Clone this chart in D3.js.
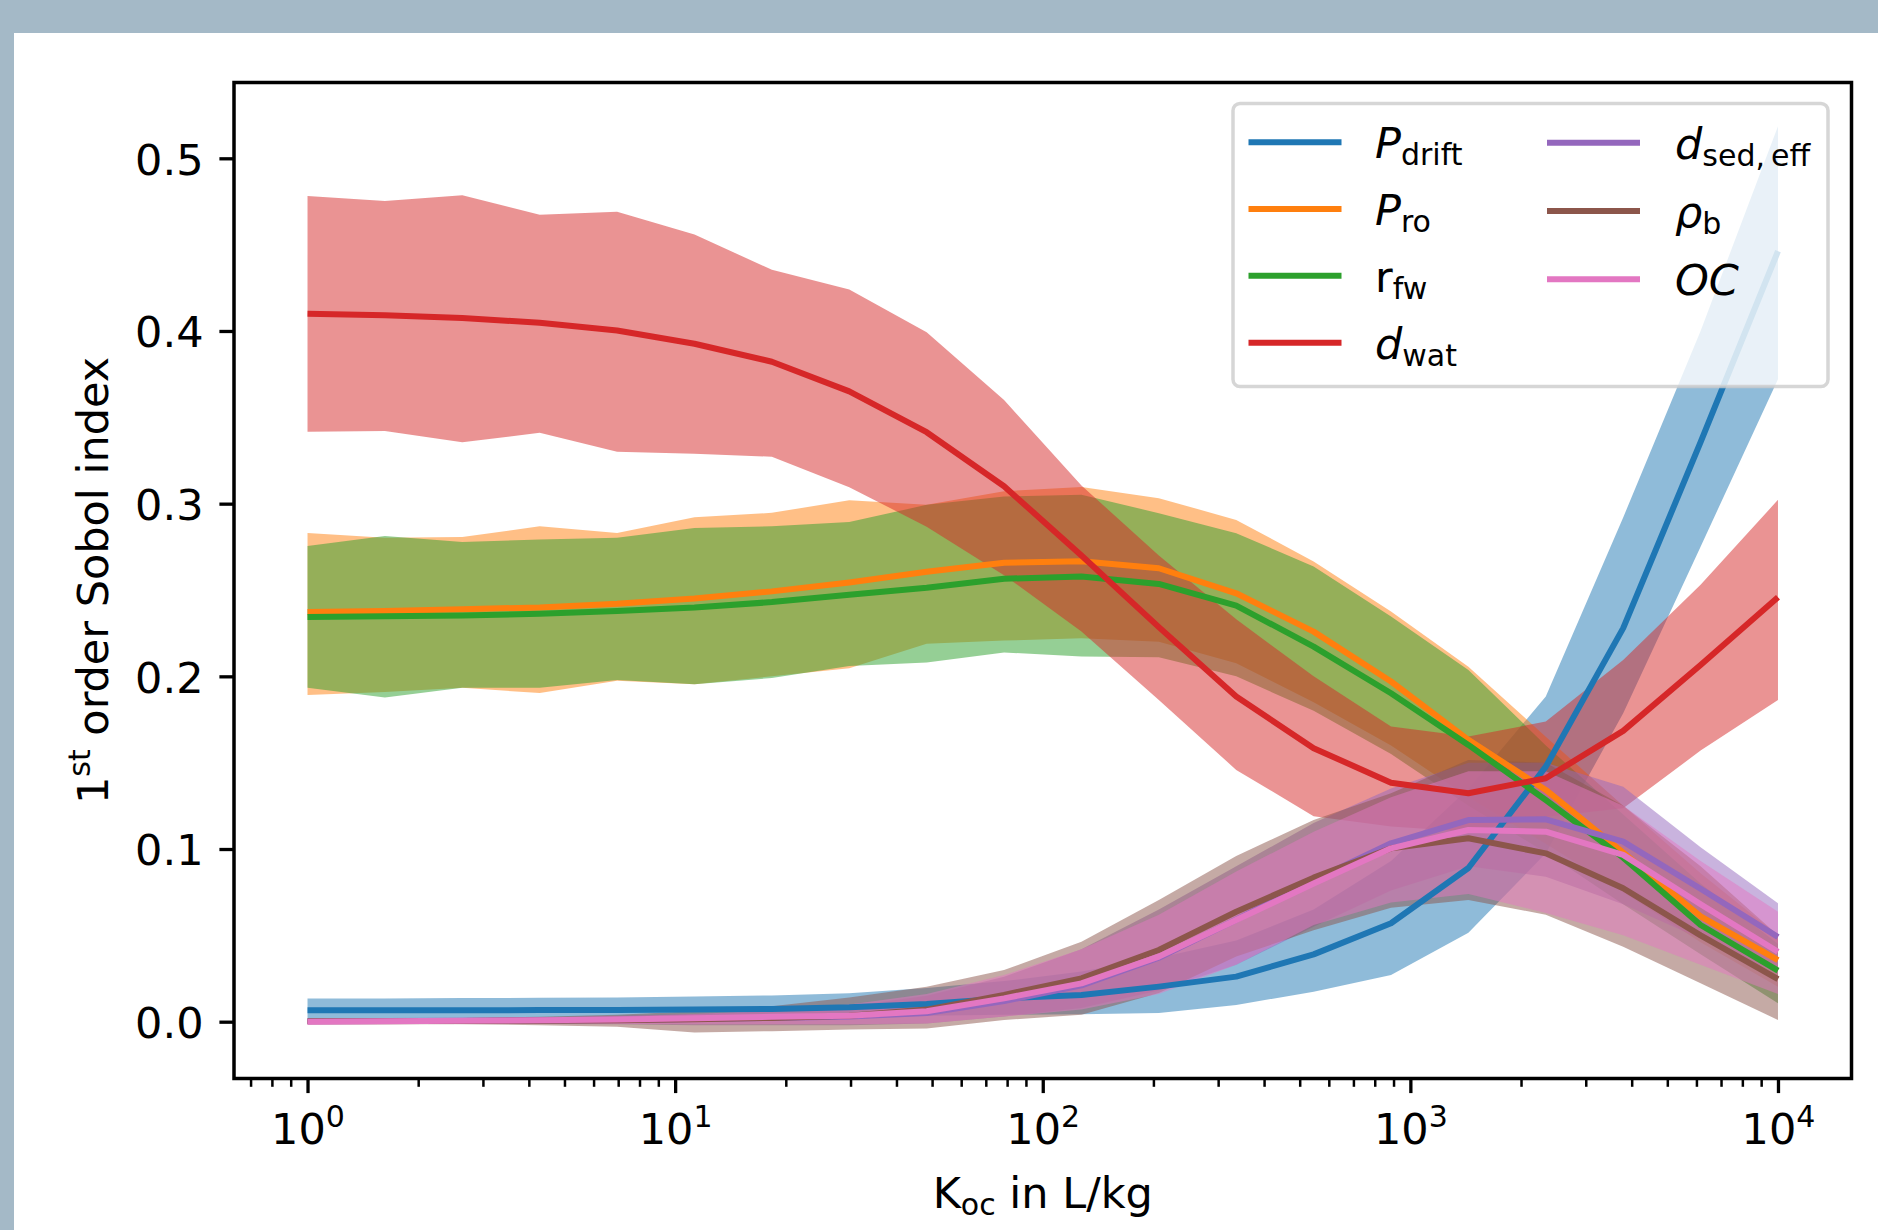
<!DOCTYPE html>
<html><head><meta charset="utf-8">
<script src="https://cdn.jsdelivr.net/npm/d3@7"></script>
<style>body{margin:0;background:#fff;} svg{display:block;} text{font-family:"DejaVu Sans",sans-serif;fill:#000;}</style>
</head><body><svg id="c" width="1878" height="1230"></svg>
<script>
// ---- data ----
const koc = [1, 1.6238, 2.6367, 4.2813, 6.9519, 11.288, 18.330, 29.764, 48.329, 78.476, 127.43, 206.91, 335.98, 545.56, 885.87, 1438.4, 2335.7, 3792.7, 6158.5, 10000];

const pdriftMean = [0.0066,0.0066,0.0066,0.0067,0.0068,0.0070,0.0074,0.0083,0.0103,0.0135,0.0155,0.0203,0.0261,0.0390,0.0570,0.0890,0.1477,0.2279,0.3356,0.4462];
const pdriftLo   = [0.0014,0.0015,0.0016,0.0017,0.0019,0.0021,0.0024,0.0028,0.0034,0.0040,0.0043,0.0050,0.0097,0.0174,0.0270,0.0515,0.0975,0.1786,0.2751,0.3720];
const pdriftHi   = [0.0135,0.0135,0.0137,0.0138,0.0140,0.0146,0.0152,0.0165,0.0195,0.0235,0.0290,0.0370,0.0470,0.0650,0.0930,0.1350,0.1883,0.2920,0.4000,0.5186];

const proMean = [0.2373,0.2379,0.2389,0.2399,0.2420,0.2451,0.2492,0.2544,0.2606,0.2658,0.2667,0.2626,0.2481,0.2259,0.1970,0.1632,0.1342,0.0980,0.0610,0.0357];
const proLo   = [0.1892,0.1909,0.1934,0.1903,0.1975,0.1954,0.2000,0.2047,0.2188,0.2207,0.2221,0.2201,0.2076,0.1850,0.1600,0.1300,0.1030,0.0750,0.0460,0.0203];
const proHi   = [0.2830,0.2802,0.2807,0.2869,0.2830,0.2921,0.2947,0.3020,0.2993,0.3072,0.3097,0.3032,0.2906,0.2665,0.2375,0.2056,0.1650,0.1250,0.0860,0.0500];

const rfwMean = [0.2344,0.2348,0.2352,0.2362,0.2378,0.2399,0.2430,0.2472,0.2513,0.2565,0.2578,0.2535,0.2410,0.2172,0.1902,0.1603,0.1284,0.0950,0.0560,0.0296];
const rfwLo   = [0.1934,0.1878,0.1934,0.1934,0.1979,0.1954,0.1990,0.2060,0.2080,0.2138,0.2115,0.2111,0.2000,0.1800,0.1550,0.1250,0.0980,0.0680,0.0390,0.0107];
const rfwHi   = [0.2755,0.2813,0.2778,0.2793,0.2802,0.2859,0.2869,0.2894,0.2993,0.3041,0.3051,0.2945,0.2829,0.2636,0.2346,0.2037,0.1600,0.1200,0.0800,0.0450];

const dwatMean = [0.4100,0.4091,0.4075,0.4048,0.4003,0.3926,0.3822,0.3650,0.3414,0.3101,0.2700,0.2285,0.1883,0.1584,0.1384,0.1323,0.1410,0.1684,0.2066,0.2458];
const dwatLo   = [0.3417,0.3421,0.3355,0.3411,0.3301,0.3289,0.3272,0.3095,0.2867,0.2586,0.2260,0.1863,0.1458,0.1190,0.1130,0.1100,0.1187,0.1236,0.1570,0.1863];
const dwatHi   = [0.4782,0.4753,0.4786,0.4673,0.4690,0.4559,0.4354,0.4240,0.3992,0.3600,0.3105,0.2700,0.2330,0.2000,0.1709,0.1651,0.1738,0.2095,0.2530,0.3022];

const dsedMean = [0.0003,0.0004,0.0005,0.0007,0.0010,0.0015,0.0022,0.0030,0.0050,0.0120,0.0210,0.0370,0.0590,0.0820,0.1033,0.1168,0.1172,0.1043,0.0770,0.0490];
const dsedLo   = [-0.0010,-0.0010,-0.0011,-0.0013,-0.0015,-0.0020,-0.0020,-0.0020,-0.0010,0.0030,0.0080,0.0180,0.0330,0.0550,0.0760,0.0900,0.0840,0.0680,0.0480,0.0280];
const dsedHi   = [0.0015,0.0018,0.0020,0.0025,0.0035,0.0045,0.0060,0.0090,0.0150,0.0260,0.0420,0.0650,0.0900,0.1150,0.1350,0.1500,0.1500,0.1360,0.1010,0.0686];

const rhobMean = [0.0002,0.0003,0.0004,0.0006,0.0009,0.0014,0.0022,0.0035,0.0070,0.0155,0.0251,0.0415,0.0637,0.0834,0.1004,0.1062,0.0975,0.0773,0.0500,0.0246];
const rhobLo   = [-0.0010,-0.0012,-0.0015,-0.0020,-0.0030,-0.0063,-0.0055,-0.0045,-0.0040,0.0010,0.0040,0.0166,0.0377,0.0530,0.0660,0.0705,0.0620,0.0434,0.0222,0.0010];
const rhobHi   = [0.0015,0.0018,0.0022,0.0028,0.0040,0.0060,0.0090,0.0140,0.0203,0.0299,0.0463,0.0705,0.0960,0.1168,0.1323,0.1516,0.1500,0.1250,0.0900,0.0500];

const ocMean = [0.0000,0.0003,0.0005,0.0008,0.0012,0.0020,0.0028,0.0035,0.0060,0.0135,0.0222,0.0377,0.0589,0.0800,0.1004,0.1110,0.1100,0.0966,0.0680,0.0405];
const ocLo   = [-0.0010,-0.0009,-0.0009,-0.0010,-0.0012,-0.0015,-0.0015,-0.0015,-0.0010,0.0030,0.0070,0.0160,0.0330,0.0560,0.0690,0.0740,0.0630,0.0500,0.0330,0.0160];
const ocHi   = [0.0010,0.0014,0.0018,0.0024,0.0032,0.0045,0.0065,0.0100,0.0160,0.0270,0.0420,0.0620,0.0870,0.1100,0.1300,0.1450,0.1450,0.1250,0.0930,0.0637];

const seriesNames = ["P_drift","P_ro","r_fw","d_wat","d_sed,eff","rho_b","OC"];
const seriesColors = ["#1f77b4","#ff7f0e","#2ca02c","#d62728","#9467bd","#8c564b","#e377c2"];
const yTicks = [0.0, 0.1, 0.2, 0.3, 0.4, 0.5];
const xMajorTicks = [1, 10, 100, 1000, 10000];
const xTickExps = ["0","1","2","3","4"];
const xLabel = ["K", "oc", " in L/kg"];
const yLabel = ["1", "st", " order Sobol index"];

const series = [
  {mean: pdriftMean, lo: pdriftLo, hi: pdriftHi},
  {mean: proMean, lo: proLo, hi: proHi},
  {mean: rfwMean, lo: rfwLo, hi: rfwHi},
  {mean: dwatMean, lo: dwatLo, hi: dwatHi},
  {mean: dsedMean, lo: dsedLo, hi: dsedHi},
  {mean: rhobMean, lo: rhobLo, hi: rhobHi},
  {mean: ocMean, lo: ocLo, hi: ocHi}
].map((s, k) => ({...s, color: seriesColors[k], name: seriesNames[k]}));

// ---- layout ----
const L = 234, R = 1851.5, T = 82.5, B = 1078.5;
const FS = 43, SFS = 30;
const svg = d3.select("#c");

svg.append("rect").attr("width", 1878).attr("height", 1230).attr("fill", "#a4b9c7");
svg.append("rect").attr("x", 14).attr("y", 33).attr("width", 1864).attr("height", 1197).attr("fill", "#ffffff");

const x = d3.scaleLog().domain([Math.pow(10, -0.2), Math.pow(10, 4.2)]).range([L, R]);
const y = d3.scaleLinear().domain([-0.0329, 0.5439]).range([B, T]);

svg.append("clipPath").attr("id", "clip").append("rect")
  .attr("x", L).attr("y", T).attr("width", R - L).attr("height", B - T);

const plot = svg.append("g").attr("clip-path", "url(#clip)");

// bands
series.forEach(s => {
  const area = d3.area()
    .x((d, i) => x(koc[i]))
    .y0((d, i) => y(s.lo[i]))
    .y1((d, i) => y(s.hi[i]));
  plot.append("path").datum(s.mean).attr("d", area)
    .attr("fill", s.color).attr("fill-opacity", 0.5).attr("stroke", "none");
});
// lines
series.forEach(s => {
  const line = d3.line().x((d, i) => x(koc[i])).y(d => y(d));
  plot.append("path").datum(s.mean).attr("d", line)
    .attr("fill", "none").attr("stroke", s.color).attr("stroke-width", 6)
    .attr("stroke-linejoin", "round").attr("stroke-linecap", "butt");
});

// minor ticks
const minorTicks = [];
for (let e = -1; e <= 4; e++) for (let m = 2; m <= 9; m++) {
  const v = m * Math.pow(10, e);
  if (v > x.domain()[0] && v < x.domain()[1]) minorTicks.push(v);
}

const xAxisMinor = d3.axisBottom(x).tickValues(minorTicks).tickSize(8.3).tickFormat("");
const gxm = svg.append("g").attr("transform", `translate(0,${B})`).call(xAxisMinor);
gxm.select(".domain").remove();
gxm.selectAll("line").attr("stroke", "#000").attr("stroke-width", 2.5);

const xAxis = d3.axisBottom(x).tickValues(xMajorTicks).tickSize(14.6).tickFormat("");
const gx = svg.append("g").attr("transform", `translate(0,${B})`).call(xAxis);
gx.select(".domain").remove();
gx.selectAll("line").attr("stroke", "#000").attr("stroke-width", 3.3);
gx.selectAll(".tick").each(function(d, i) {
  const t = d3.select(this).append("text")
    .attr("x", 0).attr("y", 1144 - B).attr("text-anchor", "middle")
    .attr("font-size", FS).attr("fill", "#000");
  t.append("tspan").text("10");
  t.append("tspan").attr("font-size", SFS).attr("dy", -16.7).text(xTickExps[i]);
});

const yAxis = d3.axisLeft(y).tickValues(yTicks).tickSize(14.6).tickFormat("");
const gy = svg.append("g").attr("transform", `translate(${L},0)`).call(yAxis);
gy.select(".domain").remove();
gy.selectAll("line").attr("stroke", "#000").attr("stroke-width", 3.3);
gy.selectAll(".tick").append("text")
  .attr("x", 203.5 - L).attr("y", 15.8).attr("text-anchor", "end")
  .attr("font-size", FS).attr("fill", "#000")
  .text(d => d3.format(".1f")(d));

// frame
svg.append("rect").attr("x", L).attr("y", T).attr("width", R - L).attr("height", B - T)
  .attr("fill", "none").attr("stroke", "#000").attr("stroke-width", 3.5);

// axis labels
const xl = svg.append("text").attr("x", (L + R) / 2).attr("y", 1208.3)
  .attr("text-anchor", "middle").attr("font-size", FS);
xl.append("tspan").text(xLabel[0]);
xl.append("tspan").attr("font-size", SFS).attr("dy", 7).text(xLabel[1]);
xl.append("tspan").attr("dy", -7).text(xLabel[2]);

const yl = svg.append("text").attr("transform", `translate(108,${(T + B) / 2}) rotate(-90)`)
  .attr("text-anchor", "middle").attr("font-size", FS);
yl.append("tspan").text(yLabel[0]);
yl.append("tspan").attr("font-size", SFS).attr("dy", -18).text(yLabel[1]);
yl.append("tspan").attr("dy", 18).text(yLabel[2]);

// legend
const leg = svg.append("g");
leg.append("rect").attr("x", 1233).attr("y", 103.5).attr("width", 595).attr("height", 283)
  .attr("rx", 7).attr("ry", 7)
  .attr("fill", "#fff").attr("fill-opacity", 0.8)
  .attr("stroke", "#cccccc").attr("stroke-opacity", 0.8).attr("stroke-width", 3.5);

const legendItems = [
  {k: 0, col: 0, y: 142.3, parts: [["P", "i"], ["drift", "s"]]},
  {k: 1, col: 0, y: 209.0, parts: [["P", "i"], ["ro", "s"]]},
  {k: 2, col: 0, y: 275.7, parts: [["r", "n"], ["fw", "s"]]},
  {k: 3, col: 0, y: 342.7, parts: [["d", "i"], ["wat", "s"]]},
  {k: 4, col: 1, y: 142.7, parts: [["d", "i"], ["sed,\u2009eff", "s"]]},
  {k: 5, col: 1, y: 211.0, parts: [["\u03c1", "i"], ["b", "s"]]},
  {k: 6, col: 1, y: 279.3, parts: [["OC", "i"]]}
];
const colX = [{h0: 1248.5, h1: 1341.5, t: 1375}, {h0: 1547, h1: 1640, t: 1675}];
legendItems.forEach(it => {
  const c = colX[it.col];
  leg.append("line").attr("x1", c.h0).attr("x2", c.h1).attr("y1", it.y).attr("y2", it.y)
    .attr("stroke", seriesColors[it.k]).attr("stroke-width", 6);
  const t = leg.append("text").attr("x", c.t).attr("y", it.y + 16).attr("font-size", FS);
  it.parts.forEach(p => {
    const ts = t.append("tspan").text(p[0]);
    if (p[1] === "i") ts.attr("font-style", "italic");
    if (p[1] === "s") { ts.attr("font-size", SFS).attr("dy", 7); }
  });
});
</script></body></html>
